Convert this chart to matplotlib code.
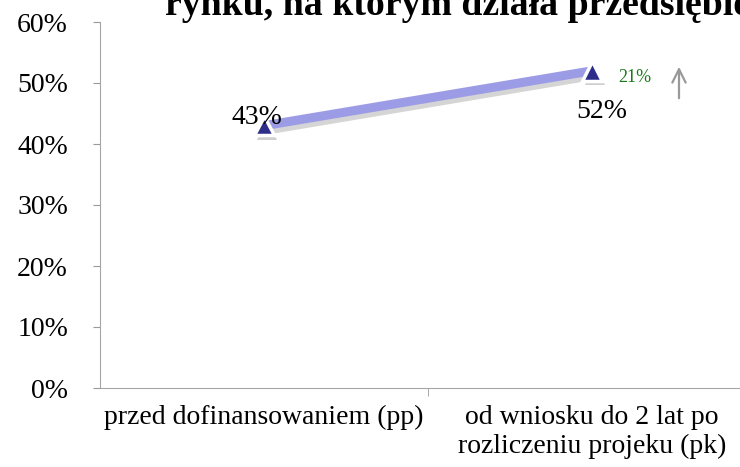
import matplotlib.pyplot as plt
import matplotlib.patheffects as pe
from matplotlib.ticker import FuncFormatter, FixedLocator

plt.rcParams['font.family'] = ['Liberation Serif', 'DejaVu Serif']

categories = ['przed dofinansowaniem (pp)', 'od wniosku do 2 lat po\nrozliczeniu projeku (pk)']
values = [0.43, 0.52]
point_labels = ['43%', '52%']
change_label = '21%'
title = 'rynku, na którym działa przedsiębiorstwo'

fig = plt.figure(figsize=(7.4, 4.67), dpi=100)
ax = fig.add_axes([100 / 740, 1 - 388 / 467, 656 / 740, (388 - 22) / 467])

x = list(range(len(values)))
ax.plot(x, values, color='#9c9ce6', lw=6.5, solid_capstyle='butt', zorder=2,
        path_effects=[pe.SimpleLineShadow(offset=(1.5, -2.5), shadow_color='#777777', alpha=0.3, linewidth=8),
                      pe.Normal()])
ax.plot(x, values, ls='none', marker='^', ms=14, color='#2e2e8a',
        markeredgecolor='white', markeredgewidth=2.5, zorder=3,
        path_effects=[pe.SimplePatchShadow(offset=(2, -3), shadow_rgbFace='#777777', alpha=0.35), pe.Normal()])

ax.set_xlim(-0.5, 1.5)
ax.set_ylim(0, 0.6)
ax.yaxis.set_major_locator(FixedLocator([0, 0.1, 0.2, 0.3, 0.4, 0.5, 0.6]))
ax.yaxis.set_major_formatter(FuncFormatter(lambda v, p: f'{v * 100:.0f}%'))
ax.tick_params(axis='y', labelsize=20, length=5, color='#999999', pad=18)

ax.set_xticks(x)
ax.set_xticklabels(categories, fontsize=20, linespacing=1.2)
ax.tick_params(axis='x', length=0, pad=12)
ax.set_xticks([0.5], minor=True)
ax.tick_params(axis='x', which='minor', length=6, color='#999999')

for s in ['top', 'right']:
    ax.spines[s].set_visible(False)
for s in ['left', 'bottom']:
    ax.spines[s].set_color('#a6a6a6')

ax.annotate(point_labels[0], (x[0], values[0]), xytext=(-5, 1), textcoords='offset points',
            ha='center', va='baseline', fontsize=20)
ax.annotate(point_labels[1], (x[1], values[1]), xytext=(7, -34), textcoords='offset points',
            ha='center', va='baseline', fontsize=20)
ax.annotate(change_label, (x[1], values[1]), xytext=(31, -5), textcoords='offset points',
            ha='center', va='center', fontsize=13, color='#1a7a1a')
ax.annotate('', xy=(679 / 740, 1 - 64 / 467), xytext=(679 / 740, 1 - 101 / 467),
            xycoords='figure fraction', textcoords='figure fraction',
            arrowprops=dict(arrowstyle='->', color='#999999', lw=1.6, mutation_scale=24))

fig.text(165 / 740, 1 - 15 / 467, title, fontsize=27.2, fontweight='bold', ha='left', va='baseline')

fig.savefig('out.png', dpi=100)
